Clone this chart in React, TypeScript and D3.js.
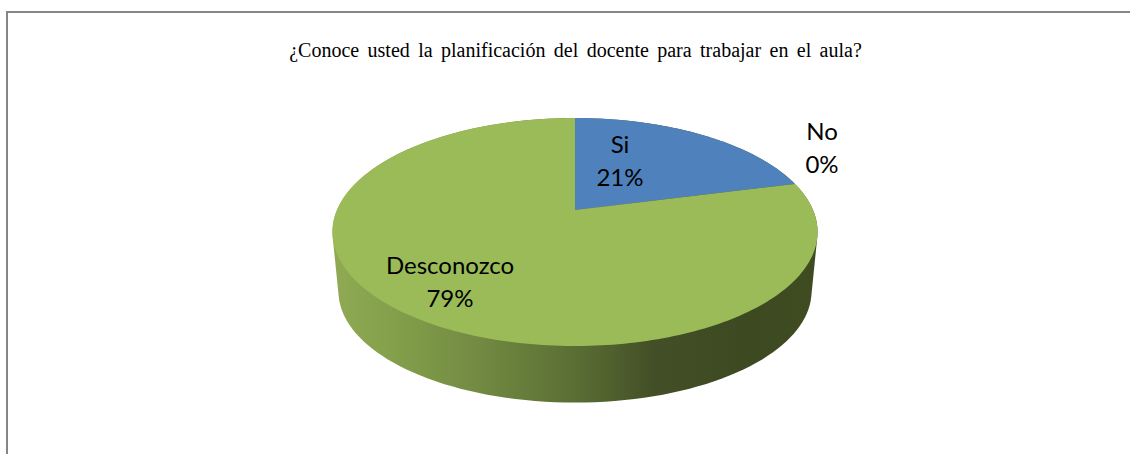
import React from "react";
import * as d3 from "d3";

const categories = ["Si", "No", "Desconozco"];
const percentages = [21, 0, 79];
const sliceColors = ["#4F81BD", "#C0504D", "#9BBB59"];
const titleText = "¿Conoce usted la planificación del docente para trabajar en el aula?";

const W = 1130;
const H = 454;
const cx = 575;
const topApexY = 210;
const k = 0.193;
const radX = 238;
const radY = 109.75;
const depthScale = 0.975;
const bottomApexY = 270;

// Perspective projection of a point of the unit disc; angle is clockwise from 12 o'clock.
const project = (angle: number, r: number, apexY: number, scale: number): [number, number] => {
  const u = r * Math.sin(angle);
  const v = -r * Math.cos(angle);
  const w = 1 - k * v;
  return [cx + (scale * radX * u) / w, apexY + (scale * radY * v) / w];
};

const angleSteps = d3.range(0, 361, 2).map((d) => (d * Math.PI) / 180);

const labelAnchors: [number, number][] = [
  [620, 145],
  [822, 132],
  [450, 266],
];

const sideStops = [
  { o: 0, c: "#8FAA53" },
  { o: 0.12, c: "#84A04B" },
  { o: 0.3, c: "#728A42" },
  { o: 0.5, c: "#5A6E34" },
  { o: 0.66, c: "#434F26" },
  { o: 0.85, c: "#3D4A21" },
  { o: 1, c: "#3F4C22" },
];

export default function App() {
  const pie = d3
    .pie<number>()
    .sort(null)
    .startAngle(0)
    .endAngle(2 * Math.PI);
  const arcs = pie(percentages);
  const line = d3.line();

  const slicePath = (a: d3.PieArcDatum<number>) => {
    const n = Math.max(2, Math.ceil((a.endAngle - a.startAngle) / 0.02));
    const pts = d3
      .range(n + 1)
      .map((i) => project(a.startAngle + ((a.endAngle - a.startAngle) * i) / n, 1, topApexY, 1));
    return line([[cx, topApexY], ...pts]) + "Z";
  };

  const hull = d3.polygonHull([
    ...angleSteps.map((a) => project(a, 1, topApexY, 1)),
    ...angleSteps.map((a) => project(a, 1, bottomApexY, depthScale)),
  ]) as [number, number][];

  return (
    <svg
      width={W}
      height={H}
      viewBox={`0 0 ${W} ${H}`}
      style={{ position: "absolute", left: 0, top: 0, display: "block", background: "#fff" }}
    >
      <defs>
        <linearGradient id="side" gradientUnits="userSpaceOnUse" x1={333} x2={818} y1={0} y2={0}>
          {sideStops.map((s) => (
            <stop key={s.o} offset={s.o} stopColor={s.c} />
          ))}
        </linearGradient>
      </defs>
      <path d={`M7 ${H}V12H${W}`} fill="none" stroke="#868686" strokeWidth={2} />
      <text
        x={575.5}
        y={57}
        textAnchor="middle"
        fontFamily="'Liberation Serif', serif"
        fontSize={20}
        wordSpacing={3.4}
        fill="#000"
      >
        {titleText}
      </text>
      <path d={line(hull) + "Z"} fill="url(#side)" />
      {arcs.map((a, i) =>
        a.endAngle > a.startAngle ? <path key={categories[i]} d={slicePath(a)} fill={sliceColors[i]} /> : null
      )}
      {categories.map((c, i) => (
        <text
          key={c}
          textAnchor="middle"
          fontFamily="Lato, sans-serif"
          fontSize={24}
          fill="#000"
        >
          <tspan x={labelAnchors[i][0]} y={labelAnchors[i][1] + 8}>
            {c}
          </tspan>
          <tspan x={labelAnchors[i][0]} dy={33}>
            {percentages[i]}%
          </tspan>
        </text>
      ))}
    </svg>
  );
}
